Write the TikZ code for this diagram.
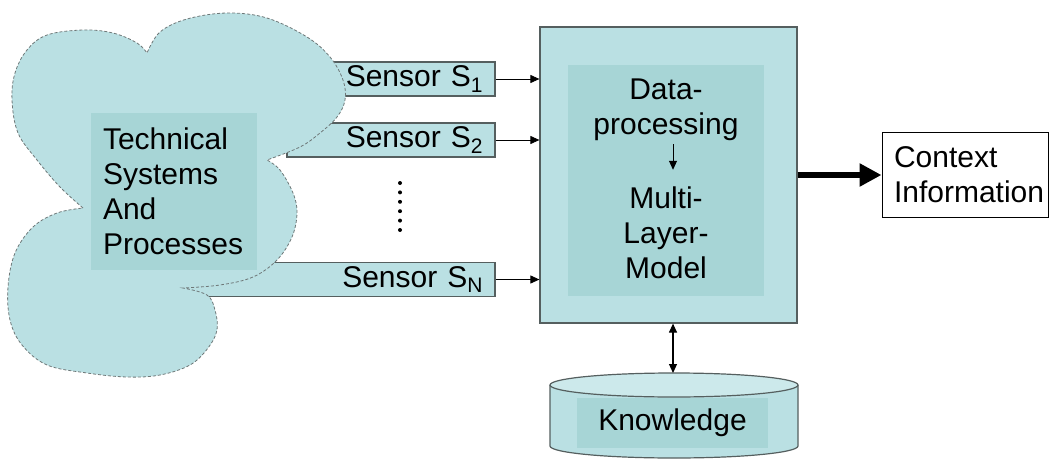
\documentclass[tikz,border=0pt]{standalone}
\usepackage{fontspec}
\setmainfont{Liberation Sans}
\usepackage{tikz}
\usetikzlibrary{arrows.meta, positioning}
\definecolor{turquoise}{RGB}{186,224,227}
\definecolor{turquoisefonce}{RGB}{167,213,214}
\definecolor{turquoiseclair}{RGB}{204,233,235}
\definecolor{gris}{RGB}{85,95,95}
\definecolor{grisnuage}{RGB}{110,120,120}

\begin{document}
\begin{tikzpicture}[x=1pt, y=-1pt, font=\fontsize{30}{35}\selectfont,
	boite/.style={draw=gris, fill=turquoise, line width=1.2pt, inner sep=0pt},
	boitefonce/.style={fill=turquoisefonce, inner sep=0pt},
	capteur/.style={draw=gris, fill=turquoise, line width=1.2pt, minimum height=34pt,
		align=right, inner xsep=12pt, inner ysep=0pt},
	nuage/.style={draw=grisnuage, fill=turquoise, line width=0.8pt, dash pattern=on 3pt off 2pt},
	fleche/.style={-{Triangle[length=9pt,width=8pt]}, line width=0.9pt},
	doublefleche/.style={{Triangle[length=9pt,width=8pt]}-{Triangle[length=9pt,width=8pt]}, line width=1.2pt},
	grossefleche/.style={-{Triangle[length=22pt,width=22pt]}, line width=6pt}]
				\useasboundingbox (0,0) rectangle (1054,460);
				
				\node[capteur, text width=151pt] (s1) at (407.5,79) {Sensor S\textsubscript{1}};
				\node[capteur, text width=184pt] (s2) at (391,140) {Sensor S\textsubscript{2}};
				\node[capteur, text width=296pt] (sn) at (335,279.5) {Sensor S\textsubscript{N}};
				
				\draw[nuage] plot[smooth, tension=0.6] coordinates {(83,208) (60,187) (37,160) (18,133)
					(12,100) (15,73) (27,50) (47,35) (83,30) (113,33) (137,43) (147,53)}
				-- plot[smooth, tension=0.6] coordinates {(147,53) (160,32) (187,19) (227,13) (267,18)
					(307,37) (330,57) (343,80) (345,100) (337,117) (320,133) (300,147) (267,160)}
				-- plot[smooth, tension=0.6] coordinates {(267,160) (280,170) (293,193) (297,213)
					(292,237) (277,260) (253,277) (220,285) (183,288)}
				-- plot[smooth, tension=0.6] coordinates {(183,288) (207,295) (215,310) (217,330)
					(208,348) (190,365) (160,375) (127,377) (87,373) (47,365) (22,345) (10,320)
					(8,287) (15,253) (33,227) (57,213) (83,208)} -- cycle;
				
				\node[boitefonce, align=left, text width=142pt, inner xsep=12pt,
				minimum height=157pt] (tsp) at (174,191.5) {Technical\\Systems\\And\\Processes};
				
				\foreach \k in {0,...,5}
					\fill (400,{183+9.4*\k}) circle (2pt);
				
				\node[boite, minimum width=257pt, minimum height=296pt] (proc) at (668.5,175) {};
				\node[boitefonce, minimum width=196pt, minimum height=231pt] (inner) at (666,180.5) {};
				\node[align=center, inner sep=0pt] (dp) at (666,110) {Data-\\processing};
				\node[align=center, inner sep=0pt] (mlm) at (666,233) {Multi-\\Layer-\\Model};
				
				\fill[turquoise] (550,385) -- (550,446) arc[start angle=180, end angle=360,
				x radius=124pt, y radius=12pt] -- (798,385) -- cycle;
				\draw[gris, line width=1.2pt] (550,385) -- (550,446) arc[start angle=180,
				end angle=360, x radius=124pt, y radius=12pt] -- (798,385);
				\draw[gris, line width=1.2pt, fill=turquoiseclair] (674,385) ellipse
				[x radius=124pt, y radius=12pt];
				\coordinate (kbtop) at (673,373);
				\node[boitefonce, minimum width=191pt, minimum height=50pt] (kb) at (672.5,423) {Knowledge};
				
				\node[draw, line width=1pt, fill=white, align=left, text width=142pt, inner xsep=12pt,
				inner ysep=0pt, minimum height=85pt] (ctx) at (965,175) {Context\\Information};
				
				\draw[fleche] (s1.east) -- (s1.east -| proc.west);
				\draw[fleche] (s2.east) -- (s2.east -| proc.west);
				\draw[fleche] (sn.east) -- (sn.east -| proc.west);
				\draw[fleche, shorten <=3pt, shorten >=17pt] (dp.south -| kbtop) -- (mlm.north -| kbtop);
				\draw[doublefleche] (proc.south -| kbtop) -- (kbtop);
				\draw[grossefleche] (proc.east) -- (ctx.west);
			\end{tikzpicture}
\end{document}
